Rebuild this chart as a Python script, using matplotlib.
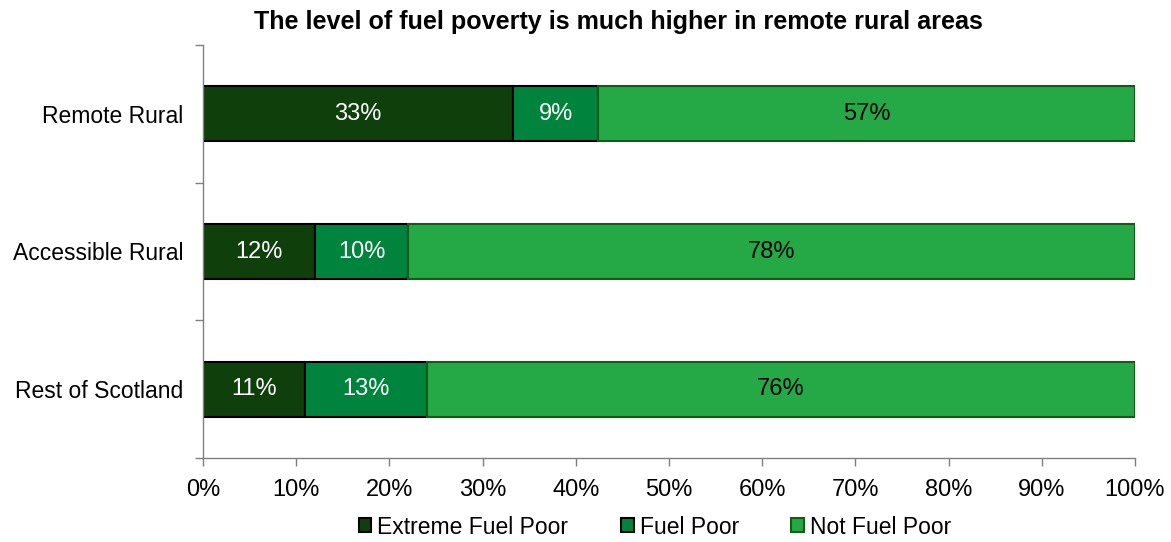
import matplotlib
matplotlib.use("Agg")
import matplotlib.pyplot as plt
import numpy as np

plt.rcParams['font.family'] = ['Liberation Sans', 'DejaVu Sans']

categories = ["Remote Rural", "Accessible Rural", "Rest of Scotland"]
series_names = ["Extreme Fuel Poor", "Fuel Poor", "Not Fuel Poor"]
extreme = [33.3, 12.0, 10.9]
fuel_poor = [9.1, 10.0, 13.1]
not_poor = [57.6, 78.0, 76.0]
labels_extreme = ["33%", "12%", "11%"]
labels_fuel = ["9%", "10%", "13%"]
labels_not = ["57%", "78%", "76%"]
x_ticks = [0, 10, 20, 30, 40, 50, 60, 70, 80, 90, 100]
title = "The level of fuel poverty is much higher in remote rural areas"

colors = ["#0f3f0b", "#00843d", "#25a846"]
edges = ["#000000", "#000000", "#135c17"]
text_colors = ["white", "white", "black"]

fig = plt.figure(figsize=(11.71, 5.42), dpi=100)
ax = fig.add_axes([203/1171, 1-458/542, (1135-203)/1171, (458-45)/542])

y = np.arange(len(categories))
data = [extreme, fuel_poor, not_poor]
labs = [labels_extreme, labels_fuel, labels_not]
left = np.zeros(len(categories))
handles = []
for vals, lab, c, ec, tc, name in zip(data, labs, colors, edges, text_colors, series_names):
    vals = np.array(vals)
    b = ax.barh(y, vals, left=left, height=0.4, color=c, edgecolor=ec, linewidth=1.5, label=name)
    handles.append(b)
    for yi, l, v, t in zip(y, left, vals, lab):
        ax.text(l + v/2, yi, t, ha='center', va='center', color=tc, fontsize=17)
    left += vals

ax.set_xlim(0, 100)
ax.set_ylim(2.5, -0.5)
ax.set_xticks(x_ticks)
ax.set_xticklabels([f"{v}%" for v in x_ticks], fontsize=17)
ax.set_yticks(y)
ax.set_yticklabels(categories, fontsize=16.5)
ax.tick_params(axis='y', length=0, pad=14)
ax.set_yticks([-0.5, 0.5, 1.5, 2.5], minor=True)
ax.tick_params(axis='y', which='minor', length=6, color='#808080', width=1)
ax.tick_params(axis='x', length=6, color='#808080', width=1, pad=9)
for s in ['top', 'right']:
    ax.spines[s].set_visible(False)
for s in ['left', 'bottom']:
    ax.spines[s].set_color('#808080')
    ax.spines[s].set_linewidth(1)

fig.text((252+985)/2/1171, 1-22/542, title, ha='center', va='center', fontsize=18.1, fontweight='bold')

leg = fig.legend(handles=handles, loc='center', bbox_to_anchor=(655/1171, 1-527/542), ncol=3,
                 frameon=False, fontsize=16.5, handlelength=0.55, handleheight=0.55,
                 handletextpad=0.26, columnspacing=2.3, borderpad=0)

fig.savefig("out.png", dpi=100)
